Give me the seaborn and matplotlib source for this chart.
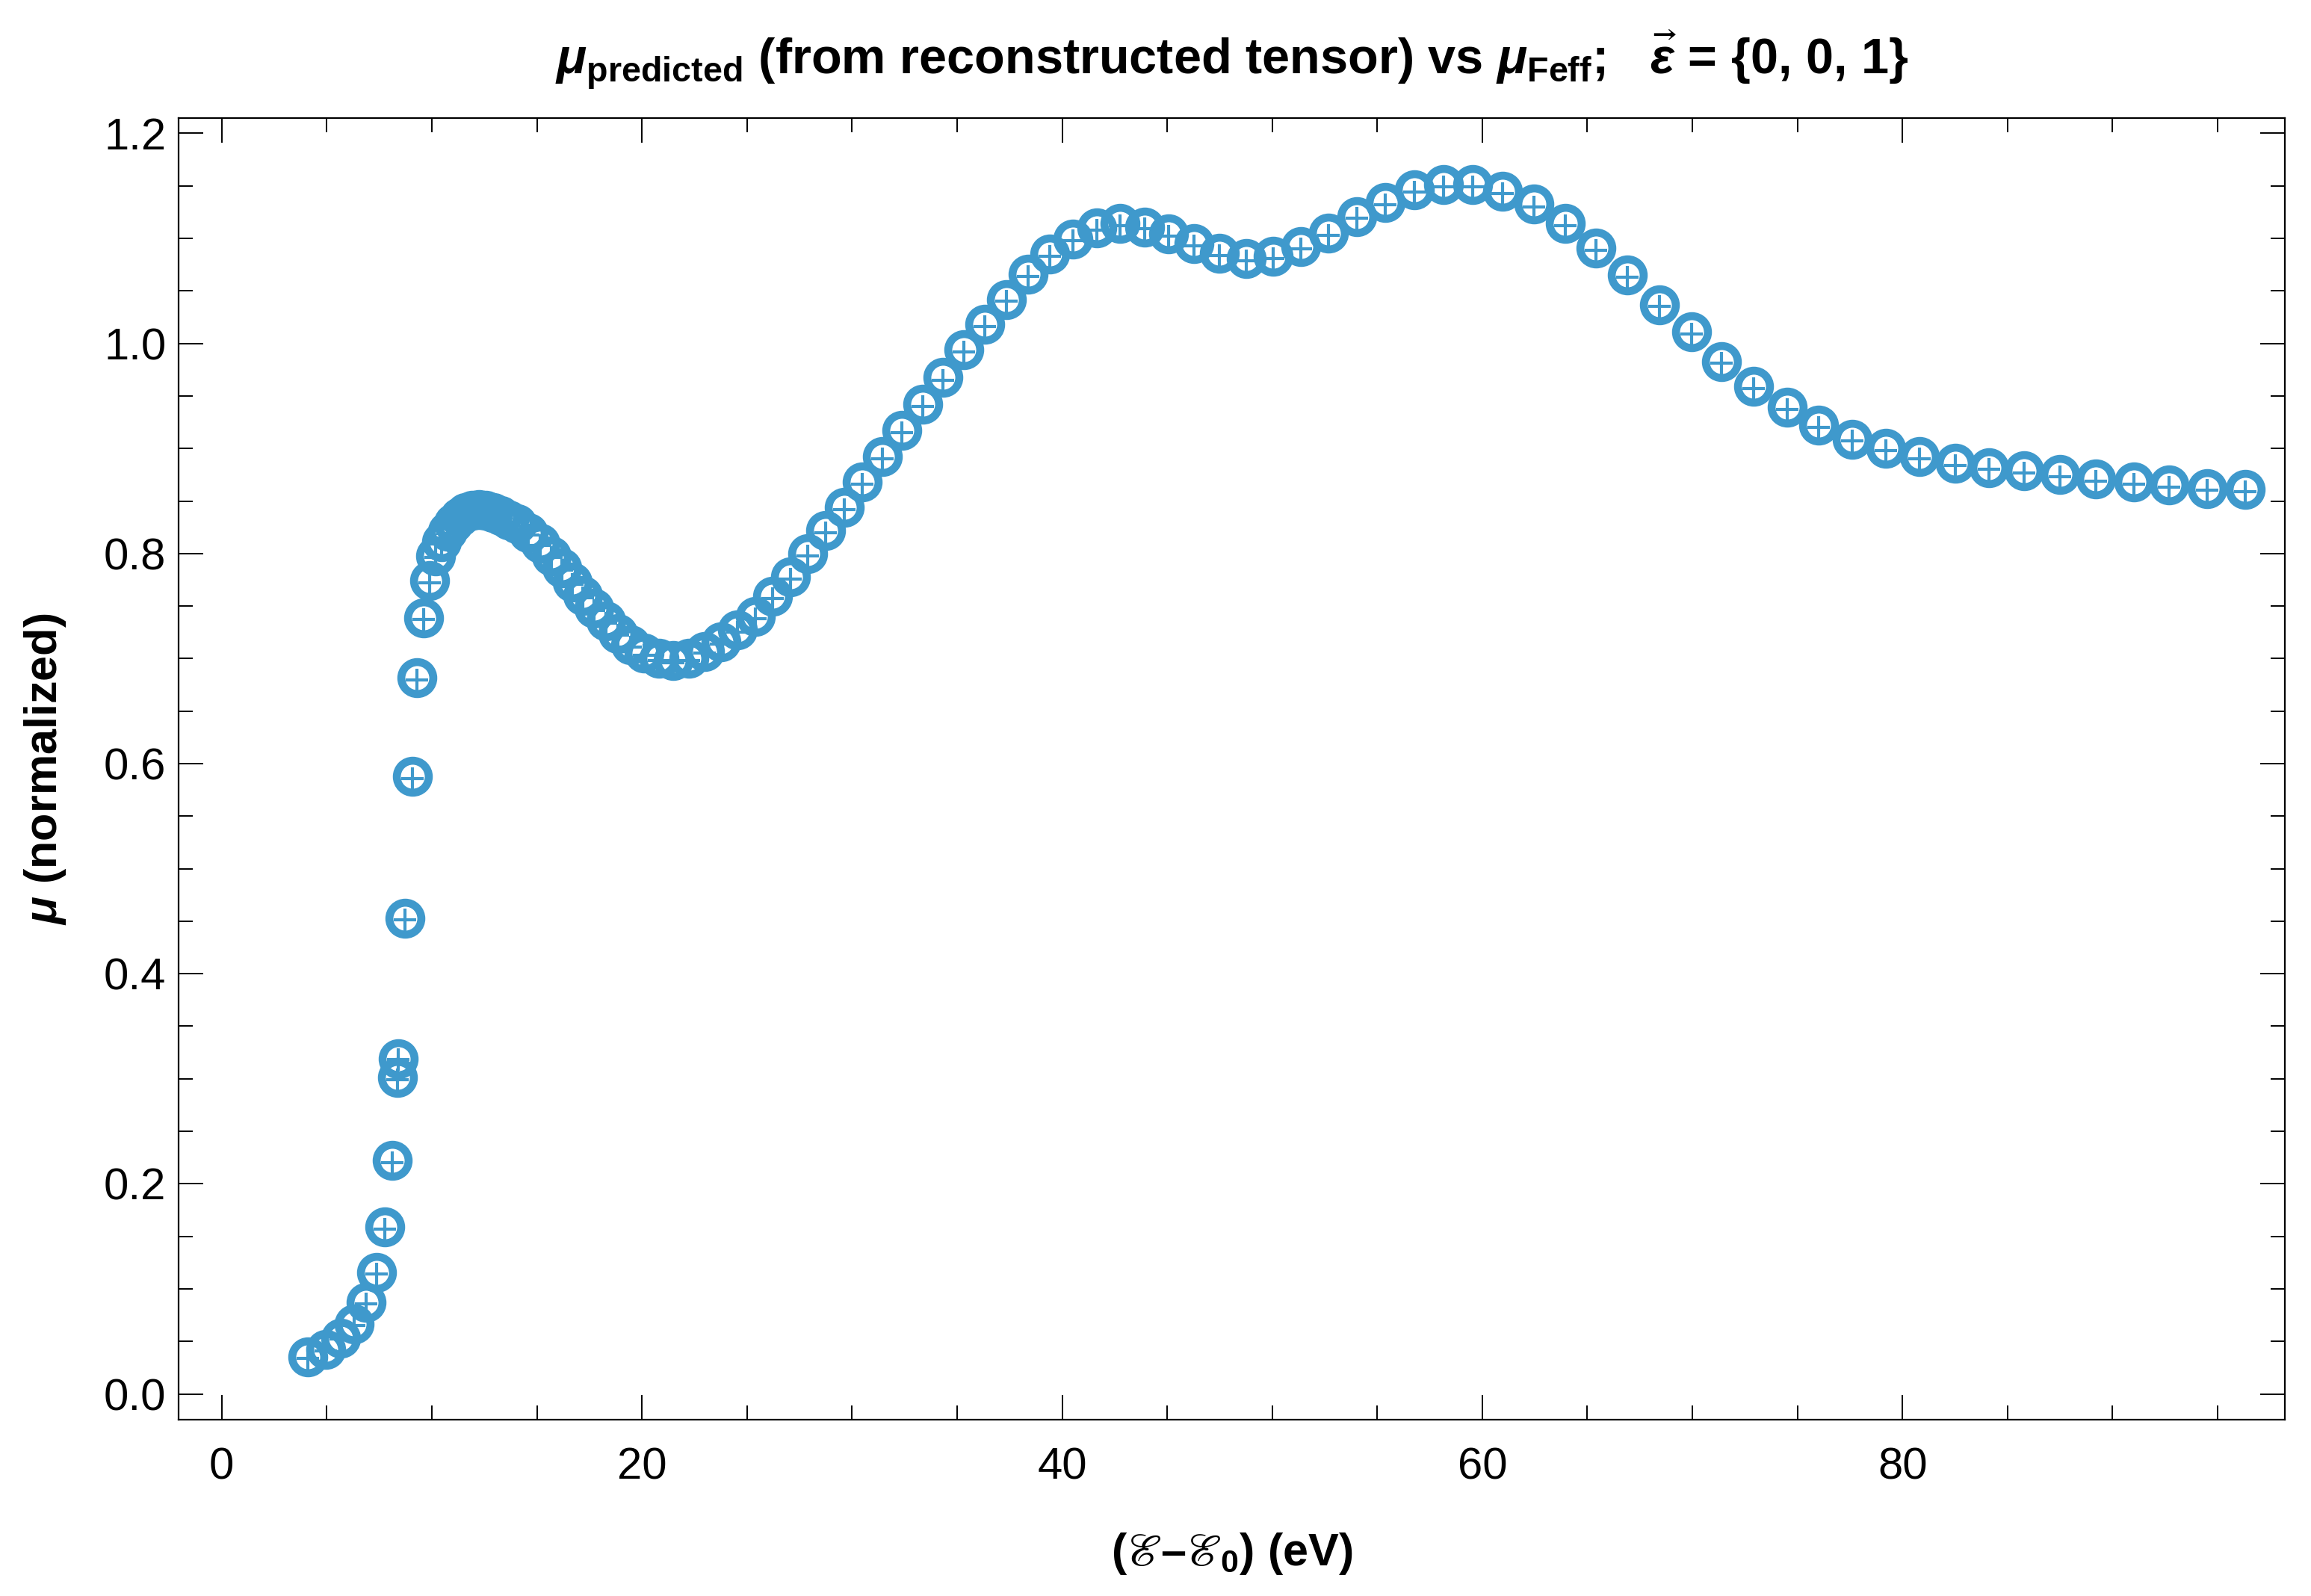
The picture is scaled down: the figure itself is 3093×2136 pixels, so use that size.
import numpy as np
import pandas as pd
import matplotlib
matplotlib.use("Agg")
import matplotlib.pyplot as plt
from matplotlib.ticker import MultipleLocator, FixedLocator
import seaborn as sns

# ---------------- data ----------------
energy = [4.10, 4.95, 5.66, 6.31, 6.87, 7.36, 7.77, 8.12, 8.38, 8.40,
          8.72, 9.09, 9.30, 9.61, 9.91, 10.19, 10.47, 10.75, 11.03, 11.32,
          11.62, 11.93, 12.25, 12.58, 12.92, 13.28, 13.66, 14.05, 14.60, 15.15,
          15.70, 16.20, 16.70, 17.20, 17.72, 18.28, 18.84, 19.45, 20.10, 20.80,
          21.50, 22.25, 23.00, 23.75, 24.55, 25.40, 26.23, 27.07, 27.89, 28.73,
          29.63, 30.50, 31.45, 32.37, 33.35, 34.32, 35.32, 36.33, 37.35, 38.39,
          39.43, 40.52, 41.65, 42.77, 43.93, 45.08, 46.27, 47.50, 48.77, 50.05,
          51.37, 52.67, 54.02, 55.38, 56.75, 58.15, 59.55, 60.98, 62.45, 63.94,
          65.41, 66.92, 68.43, 69.95, 71.40, 72.90, 74.50, 76.00, 77.60, 79.20,
          80.80, 82.50, 84.10, 85.80, 87.50, 89.20, 91.00, 92.70, 94.50, 96.30]

mu_feff = [0.035, 0.042, 0.053, 0.0665, 0.087, 0.1157, 0.159, 0.222, 0.301, 0.319,
           0.453, 0.588, 0.682, 0.739, 0.774, 0.798, 0.811, 0.821, 0.829, 0.835,
           0.839, 0.841, 0.842, 0.841, 0.839, 0.836, 0.832, 0.828, 0.820, 0.810,
           0.798, 0.786, 0.773, 0.760, 0.748, 0.736, 0.724, 0.713, 0.705, 0.700,
           0.698, 0.700, 0.707, 0.716, 0.727, 0.740, 0.759, 0.778, 0.800, 0.822,
           0.844, 0.868, 0.892, 0.917, 0.942, 0.9675, 0.994, 1.0185, 1.042, 1.066,
           1.085, 1.0996, 1.110, 1.114, 1.111, 1.104, 1.095, 1.086, 1.081, 1.083,
           1.092, 1.105, 1.121, 1.134, 1.146, 1.1515, 1.1515, 1.145, 1.1325, 1.114,
           1.091, 1.065, 1.037, 1.011, 0.983, 0.959, 0.939, 0.922, 0.909, 0.900,
           0.892, 0.886, 0.882, 0.879, 0.875, 0.871, 0.868, 0.865, 0.862, 0.861]

mu_pred = [0.034, 0.041, 0.052, 0.065, 0.086, 0.114, 0.157, 0.220, 0.299, 0.318,
           0.451, 0.586, 0.680, 0.737, 0.772, 0.796, 0.809, 0.819, 0.827, 0.833,
           0.837, 0.839, 0.840, 0.839, 0.837, 0.834, 0.830, 0.826, 0.818, 0.808,
           0.796, 0.784, 0.771, 0.758, 0.746, 0.734, 0.722, 0.711, 0.703, 0.698,
           0.696, 0.698, 0.705, 0.714, 0.725, 0.738, 0.757, 0.776, 0.798, 0.820,
           0.842, 0.866, 0.890, 0.915, 0.940, 0.965, 0.992, 1.016, 1.040, 1.064,
           1.083, 1.098, 1.108, 1.112, 1.109, 1.102, 1.093, 1.084, 1.079, 1.081,
           1.090, 1.103, 1.119, 1.132, 1.144, 1.149, 1.149, 1.143, 1.130, 1.112,
           1.089, 1.063, 1.035, 1.009, 0.981, 0.957, 0.937, 0.920, 0.907, 0.898,
           0.890, 0.884, 0.880, 0.877, 0.873, 0.869, 0.866, 0.863, 0.860, 0.859]

x_ticks = [0, 20, 40, 60, 80]
x_tick_labels = ["0", "20", "40", "60", "80"]
y_ticks = [0.0, 0.2, 0.4, 0.6, 0.8, 1.0, 1.2]
y_tick_labels = ["0.0", "0.2", "0.4", "0.6", "0.8", "1.0", "1.2"]

title_text = (r"$\mu_{\mathbf{predicted}}$ (from reconstructed tensor) vs "
              r"$\mu_{\mathbf{Feff}}$;   $\vec{\varepsilon}$ = {0, 0, 1}")
x_label = r"($ℰ$–$ℰ_{\mathbf{0}}$) (eV)"
y_label = r"$\mu$ (normalized)"

# ---------------- style ----------------
sns.set_theme(style="white")
plt.rcParams["font.family"] = ["Liberation Sans", "DejaVu Sans"]
plt.rcParams["mathtext.fontset"] = "custom"
plt.rcParams["mathtext.rm"] = "Liberation Sans:bold"
plt.rcParams["mathtext.bf"] = "Liberation Sans:bold"
plt.rcParams["mathtext.it"] = "Liberation Sans:italic:bold"
plt.rcParams["mathtext.fallback"] = "stix"
for key in ["text.color", "axes.labelcolor", "xtick.color", "ytick.color",
            "axes.edgecolor"]:
    plt.rcParams[key] = "black"

color = "#3F99CC"

df = pd.DataFrame({"E": energy, "feff": mu_feff, "pred": mu_pred})

fig = plt.figure(figsize=(15.465, 10.68), dpi=200)
ax = fig.add_axes([0.0773, 0.1105, 0.9114, 0.8155])

sns.lineplot(data=df, x="E", y="feff", ax=ax, sort=False, estimator=None,
             linestyle="", marker="o", markersize=15.4,
             markerfacecolor="none", markeredgecolor=color,
             markeredgewidth=3.85, color=color)
sns.lineplot(data=df, x="E", y="pred", ax=ax, sort=False, estimator=None,
             linestyle="", marker="+", markersize=10.8,
             markeredgewidth=1.5, color=color, markeredgecolor=color)

ax.set_xlim(-2.05, 98.2)
ax.set_ylim(-0.0245, 1.2145)

ax.xaxis.set_major_locator(FixedLocator(x_ticks))
ax.set_xticklabels(x_tick_labels)
ax.xaxis.set_minor_locator(MultipleLocator(5))
ax.yaxis.set_major_locator(FixedLocator(y_ticks))
ax.set_yticklabels(y_tick_labels)
ax.yaxis.set_minor_locator(MultipleLocator(0.05))

ax.tick_params(which="both", direction="in", top=True, right=True,
               bottom=True, left=True, color="black", width=0.7,
               labelcolor="black")
ax.tick_params(which="major", length=12, labelsize=21.5)
ax.tick_params(axis="x", which="major", pad=13)
ax.tick_params(axis="y", which="major", pad=6)
ax.tick_params(which="minor", length=7)
for s in ax.spines.values():
    s.set_color("black")
    s.set_linewidth(0.8)

ax.set_xlabel(x_label, fontsize=22, fontweight="bold", color="black")
ax.set_ylabel(y_label, fontsize=22, fontweight="bold", color="black")
ax.xaxis.set_label_coords(0.5, -0.0855)
ax.yaxis.set_label_coords(-0.0525, 0.5)
ax.set_title(title_text, fontsize=24, fontweight="bold", pad=21, color="black")

fig.savefig("out.png", dpi=200, facecolor="white")
